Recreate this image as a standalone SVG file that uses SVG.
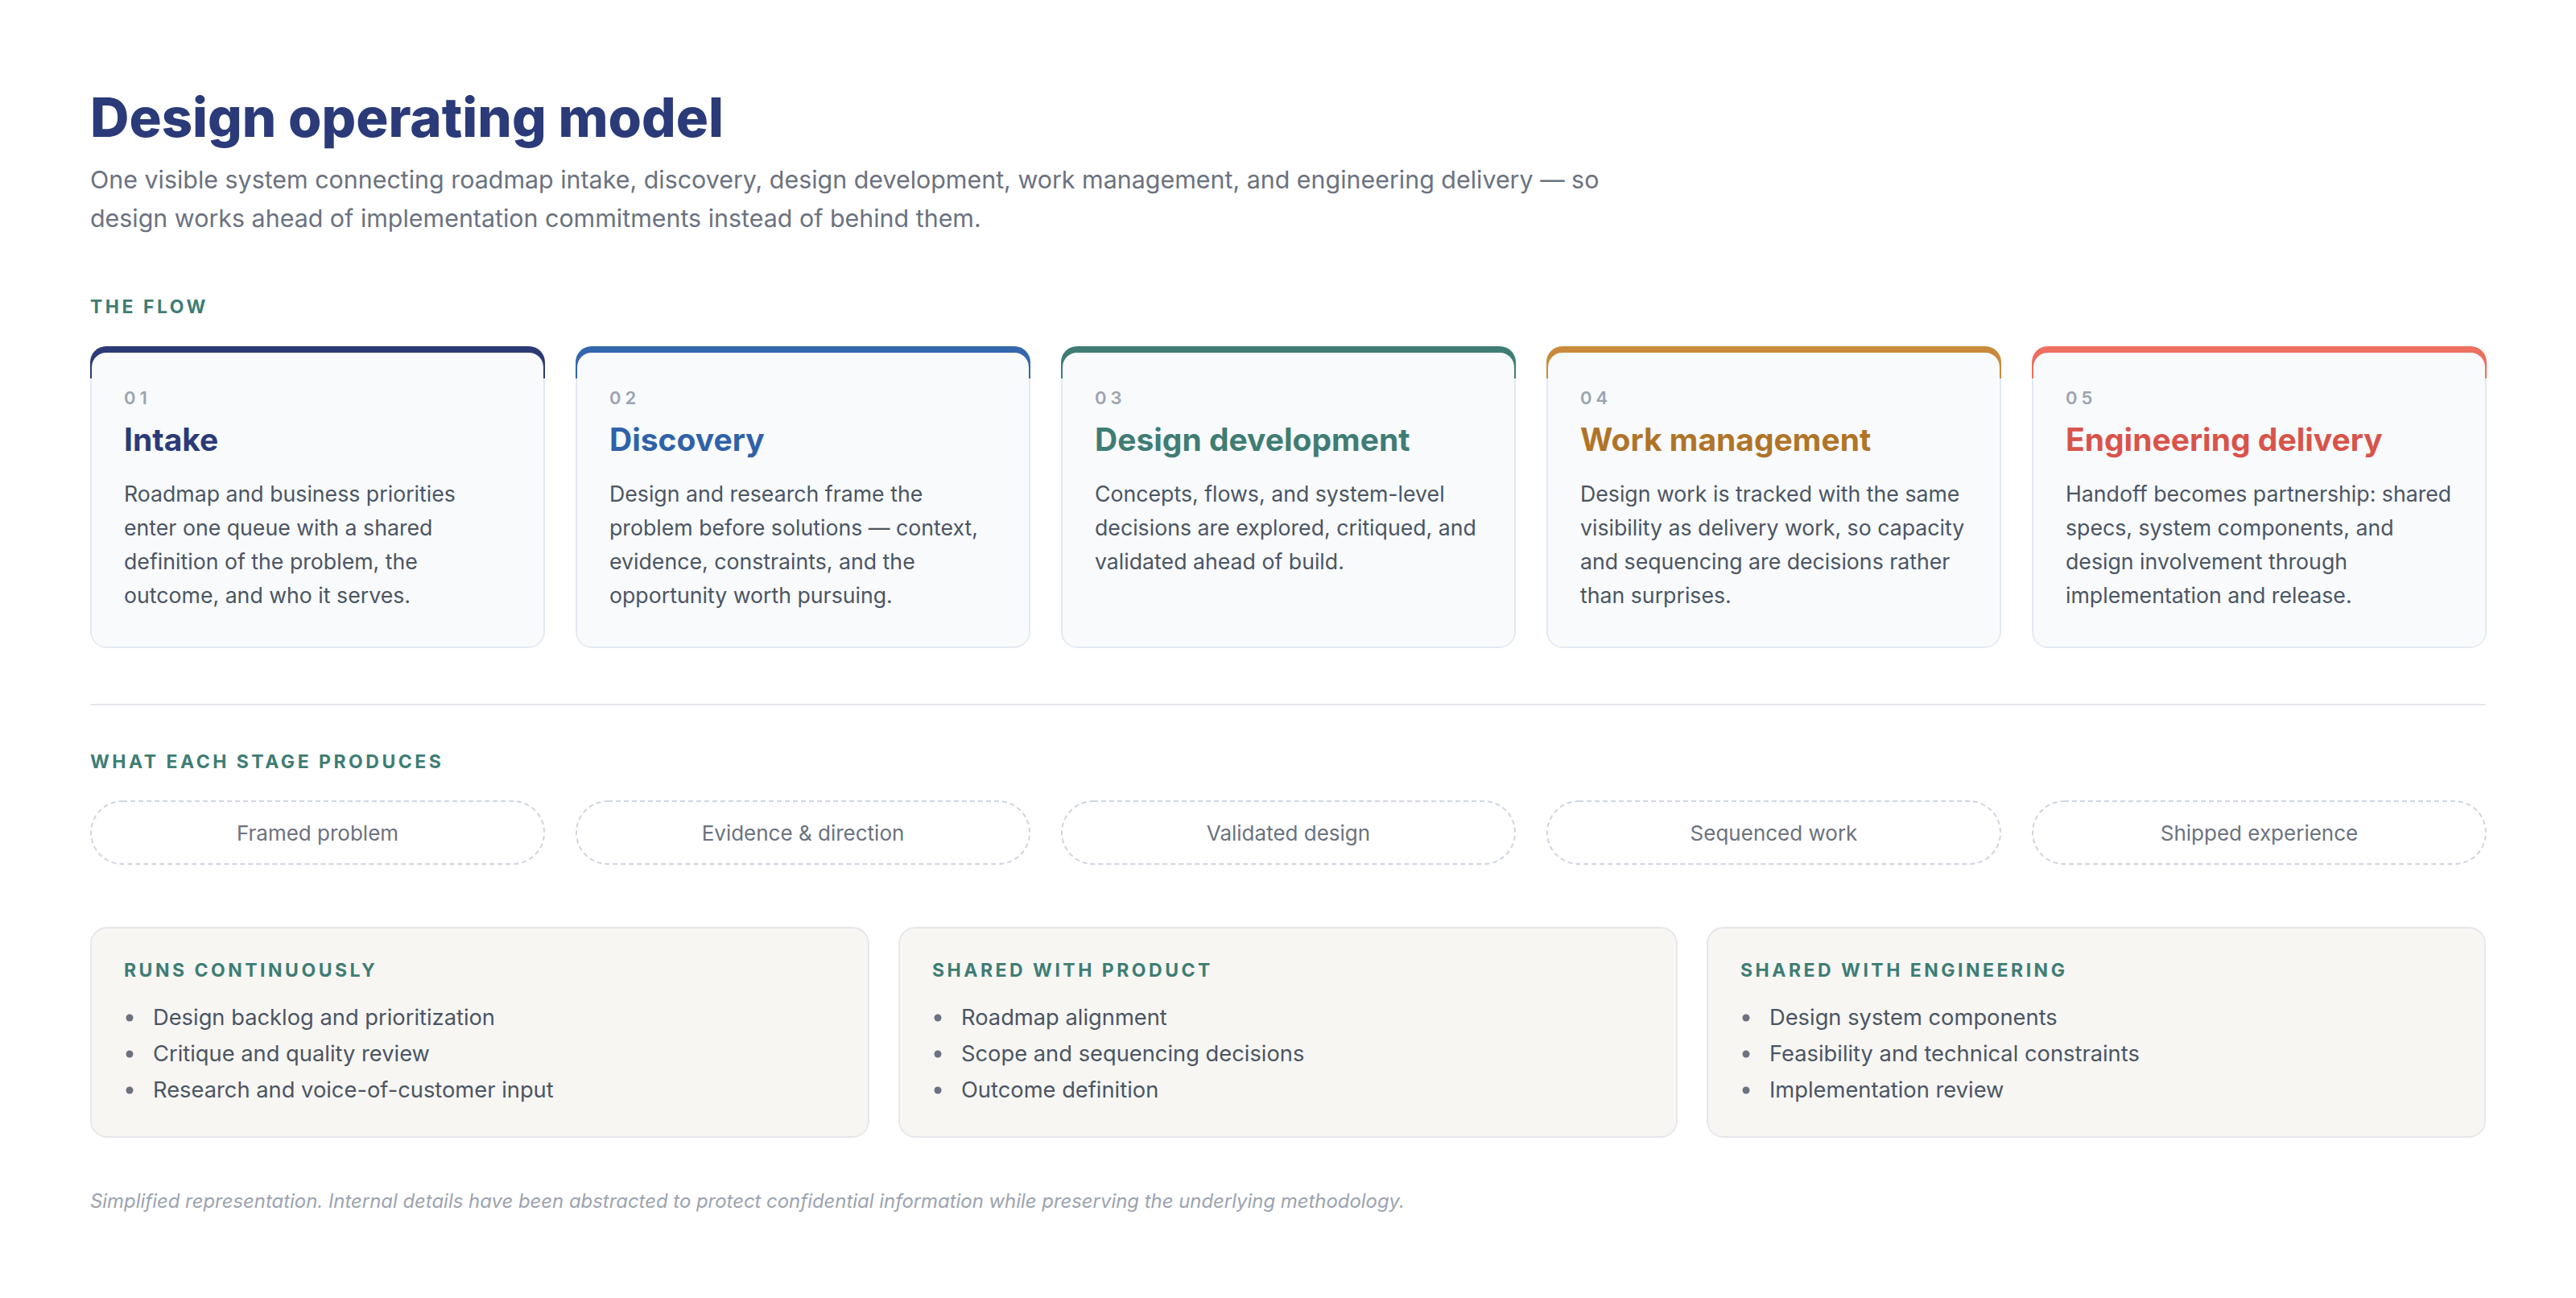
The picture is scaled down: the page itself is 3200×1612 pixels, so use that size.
<svg xmlns="http://www.w3.org/2000/svg" width="3200" height="1612" viewBox="0 0 3200 1612">
<style>
.bg{fill:#ffffff}
.title{font-family:Inter,"Noto Sans",sans-serif;font-size:67px;font-weight:800;fill:#2b3a78;letter-spacing:0px}
.sub{font-family:Inter,"Noto Sans",sans-serif;font-size:30.4px;font-weight:400;fill:#6b7280}
.sec{font-family:Inter,"Noto Sans",sans-serif;font-size:23px;font-weight:700;fill:#3e7d74;letter-spacing:3.5px}
.num{font-family:Inter,"Noto Sans",sans-serif;font-size:22px;font-weight:600;fill:#9ca3af;letter-spacing:5px}
.ctitle{font-family:Inter,"Noto Sans",sans-serif;font-size:39px;font-weight:700}
.body{font-family:Inter,"Noto Sans",sans-serif;font-size:26.7px;font-weight:400;fill:#4b5563}
.outline{fill:#f8fafc;stroke:#e2e8f0;stroke-width:2}
.inner{fill:#f8fafc}
.pill{fill:#ffffff;stroke:#cfd5df;stroke-width:2;stroke-dasharray:6 4}
.ptext{font-family:Inter,"Noto Sans",sans-serif;font-size:26px;font-weight:400;fill:#6b7280;text-anchor:middle}
.box{fill:#f7f6f3;stroke:#e5e7eb;stroke-width:2}
.btext{font-family:Inter,"Noto Sans",sans-serif;font-size:27.3px;font-weight:400;fill:#4b5563}
.dot{fill:#6b7280}
.foot{font-family:Inter,"Noto Sans",sans-serif;font-size:23.9px;font-style:italic;fill:#9ca3af}
.rule{stroke:#e5e7eb;stroke-width:2}
</style>
<defs>
<clipPath id="cardClip" clipPathUnits="userSpaceOnUse"><rect x="0" y="0" width="565" height="375" rx="20"/></clipPath>
</defs>
<rect class="bg" x="0" y="0" width="3200" height="1612"/>

<g id="header">
<text class="title" x="112" y="170">Design operating model</text>
<text class="sub" x="112" y="234">One visible system connecting roadmap intake, discovery, design development, work management, and engineering delivery — so</text>
<text class="sub" x="112" y="282">design works ahead of implementation commitments instead of behind them.</text>
<text class="sec" x="112" y="389">THE FLOW</text>
</g>

<g id="stage-1" transform="translate(112,430)">
<rect class="outline" x="1" y="1" width="563" height="373" rx="20"/>
<g clip-path="url(#cardClip)"><rect x="0" y="0" width="565" height="40" fill="#2c3a78"/><rect class="inner" x="2" y="8" width="561" height="365" rx="18"/></g>
<text class="num" x="42" y="72">01</text>
<text class="ctitle" x="42" y="130" fill="#2c3a78">Intake</text>
<text class="body" x="42" y="193">Roadmap and business priorities</text>
<text class="body" x="42" y="235">enter one queue with a shared</text>
<text class="body" x="42" y="277">definition of the problem, the</text>
<text class="body" x="42" y="319">outcome, and who it serves.</text>
</g>

<g id="stage-2" transform="translate(715,430)">
<rect class="outline" x="1" y="1" width="563" height="373" rx="20"/>
<g clip-path="url(#cardClip)"><rect x="0" y="0" width="565" height="40" fill="#3466ad"/><rect class="inner" x="2" y="8" width="561" height="365" rx="18"/></g>
<text class="num" x="42" y="72">02</text>
<text class="ctitle" x="42" y="130" fill="#2f62a8">Discovery</text>
<text class="body" x="42" y="193">Design and research frame the</text>
<text class="body" x="42" y="235">problem before solutions — context,</text>
<text class="body" x="42" y="277">evidence, constraints, and the</text>
<text class="body" x="42" y="319">opportunity worth pursuing.</text>
</g>

<g id="stage-3" transform="translate(1318,430)">
<rect class="outline" x="1" y="1" width="563" height="373" rx="20"/>
<g clip-path="url(#cardClip)"><rect x="0" y="0" width="565" height="40" fill="#3f7d74"/><rect class="inner" x="2" y="8" width="561" height="365" rx="18"/></g>
<text class="num" x="42" y="72">03</text>
<text class="ctitle" x="42" y="130" fill="#3f7d74">Design development</text>
<text class="body" x="42" y="193">Concepts, flows, and system-level</text>
<text class="body" x="42" y="235">decisions are explored, critiqued, and</text>
<text class="body" x="42" y="277">validated ahead of build.</text>
</g>

<g id="stage-4" transform="translate(1921,430)">
<rect class="outline" x="1" y="1" width="563" height="373" rx="20"/>
<g clip-path="url(#cardClip)"><rect x="0" y="0" width="565" height="40" fill="#c98b3b"/><rect class="inner" x="2" y="8" width="561" height="365" rx="18"/></g>
<text class="num" x="42" y="72">04</text>
<text class="ctitle" x="42" y="130" fill="#b07428">Work management</text>
<text class="body" x="42" y="193">Design work is tracked with the same</text>
<text class="body" x="42" y="235">visibility as delivery work, so capacity</text>
<text class="body" x="42" y="277">and sequencing are decisions rather</text>
<text class="body" x="42" y="319">than surprises.</text>
</g>

<g id="stage-5" transform="translate(2524,430)">
<rect class="outline" x="1" y="1" width="563" height="373" rx="20"/>
<g clip-path="url(#cardClip)"><rect x="0" y="0" width="565" height="40" fill="#ee6e5f"/><rect class="inner" x="2" y="8" width="561" height="365" rx="18"/></g>
<text class="num" x="42" y="72">05</text>
<text class="ctitle" x="42" y="130" fill="#d9534a">Engineering delivery</text>
<text class="body" x="42" y="193">Handoff becomes partnership: shared</text>
<text class="body" x="42" y="235">specs, system components, and</text>
<text class="body" x="42" y="277">design involvement through</text>
<text class="body" x="42" y="319">implementation and release.</text>
</g>

<g id="connectors"></g>

<g id="produces">
<line class="rule" x1="112" y1="875" x2="3088" y2="875"/>
<text class="sec" x="112" y="954">WHAT EACH STAGE PRODUCES</text>
<g id="out-1"><rect class="pill" x="113" y="995" width="563" height="78" rx="39"/><text class="ptext" x="394.5" y="1044">Framed problem</text></g>
<g id="out-2"><rect class="pill" x="716" y="995" width="563" height="78" rx="39"/><text class="ptext" x="997.5" y="1044">Evidence &amp; direction</text></g>
<g id="out-3"><rect class="pill" x="1319" y="995" width="563" height="78" rx="39"/><text class="ptext" x="1600.5" y="1044">Validated design</text></g>
<g id="out-4"><rect class="pill" x="1922" y="995" width="563" height="78" rx="39"/><text class="ptext" x="2203.5" y="1044">Sequenced work</text></g>
<g id="out-5"><rect class="pill" x="2525" y="995" width="563" height="78" rx="39"/><text class="ptext" x="2806.5" y="1044">Shipped experience</text></g>
</g>

<g id="box-continuous" transform="translate(112,1151)">
<rect class="box" x="1" y="1" width="966" height="260" rx="20"/>
<text class="sec" x="42" y="62">RUNS CONTINUOUSLY</text>
<circle class="dot" cx="49" cy="113" r="4.5"/><text class="btext" x="78" y="122">Design backlog and prioritization</text>
<circle class="dot" cx="49" cy="158" r="4.5"/><text class="btext" x="78" y="167">Critique and quality review</text>
<circle class="dot" cx="49" cy="203" r="4.5"/><text class="btext" x="78" y="212">Research and voice-of-customer input</text>
</g>

<g id="box-product" transform="translate(1116,1151)">
<rect class="box" x="1" y="1" width="966" height="260" rx="20"/>
<text class="sec" x="42" y="62">SHARED WITH PRODUCT</text>
<circle class="dot" cx="49" cy="113" r="4.5"/><text class="btext" x="78" y="122">Roadmap alignment</text>
<circle class="dot" cx="49" cy="158" r="4.5"/><text class="btext" x="78" y="167">Scope and sequencing decisions</text>
<circle class="dot" cx="49" cy="203" r="4.5"/><text class="btext" x="78" y="212">Outcome definition</text>
</g>

<g id="box-engineering" transform="translate(2120,1151)">
<rect class="box" x="1" y="1" width="966" height="260" rx="20"/>
<text class="sec" x="42" y="62">SHARED WITH ENGINEERING</text>
<circle class="dot" cx="49" cy="113" r="4.5"/><text class="btext" x="78" y="122">Design system components</text>
<circle class="dot" cx="49" cy="158" r="4.5"/><text class="btext" x="78" y="167">Feasibility and technical constraints</text>
<circle class="dot" cx="49" cy="203" r="4.5"/><text class="btext" x="78" y="212">Implementation review</text>
</g>

<g id="footer">
<text class="foot" x="112" y="1500">Simplified representation. Internal details have been abstracted to protect confidential information while preserving the underlying methodology.</text>
</g>
</svg>
